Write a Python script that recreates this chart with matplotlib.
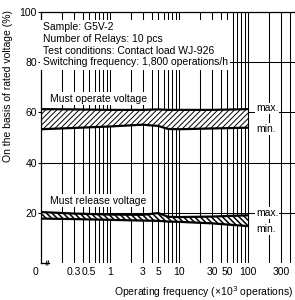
import numpy as np
import matplotlib
matplotlib.use('Agg')
import matplotlib.pyplot as plt
from matplotlib.ticker import FixedLocator, FixedFormatter, NullLocator

plt.rcParams['font.family'] = ['Liberation Sans', 'DejaVu Sans']
plt.rcParams['font.size'] = 7.5

# operating frequency (x10^3 operations)
freq = [0.1, 0.3, 1, 3, 5, 7, 10, 30, 100]
# must operate voltage band (%)
op_max = [61.3, 61.2, 61.0, 61.0, 61.2, 61.0, 61.0, 61.0, 61.3]
op_min = [53.3, 53.8, 54.4, 55.1, 54.6, 53.4, 53.3, 53.6, 53.9]
# must release voltage band (%)
rel_max = [20.3, 19.7, 19.3, 19.2, 19.9, 18.4, 18.3, 18.5, 19.0]
rel_min = [17.7, 17.5, 17.2, 16.9, 16.8, 16.5, 16.4, 15.8, 14.7]

tick_vals = [0.3, 0.5, 1, 3, 5, 10, 30, 50, 100, 300]
tick_text = ['0.3', '0.5', '1', '3', '5', '10', '30', '50', '100', '300']
y_ticks = [20, 40, 60, 80, 100]

info = ('Sample: G5V-2\nNumber of Relays: 10 pcs\n'
        'Test conditions: Contact load WJ-926\n'
        'Switching frequency: 1,800 operations/h')

W, H = 295, 300
fig = plt.figure(figsize=(W / 100, H / 100), dpi=100)
fig.patch.set_facecolor('white')
ax = fig.add_axes([41 / W, 37 / H, 254 / W, 251 / H])

ax.set_xscale('log')
ax.set_xlim(0.1, 480)
ax.set_ylim(0, 100)

# log grid lines 0.2 .. 400
grid_x = [m * 10.0 ** e for e in range(-1, 3) for m in range(1, 10)]
grid_x = [g for g in grid_x if 0.1 < g < 480]
for g in grid_x:
    ax.axvline(g, color='black', lw=0.75, zorder=1)
for yv in [20, 40, 60, 80]:
    ax.axhline(yv, color='black', lw=0.75, zorder=1)

ax.xaxis.set_major_locator(FixedLocator(tick_vals))
ax.xaxis.set_major_formatter(FixedFormatter(tick_text))
ax.xaxis.set_minor_locator(NullLocator())
ax.tick_params(axis='x', length=0, pad=3, labelsize=7.5)
ax.set_yticks(y_ticks)
ax.tick_params(axis='y', length=2, width=0.75, pad=1, labelsize=7.5)

for s in ['right', 'bottom']:
    ax.spines[s].set_visible(False)
for s in ['left', 'top']:
    ax.spines[s].set_linewidth(0.9)

# zero label and axis break
ax.annotate('0', xy=(0.1, 0), xytext=(-4, -3), textcoords='offset points',
            ha='center', va='top', fontsize=7.5)
ax.plot([0.1, 0.13], [0, 0], color='black', lw=0.9, clip_on=False, zorder=3)
for bx in [0.12, 0.127]:
    ax.plot([bx * 0.985, bx * 1.015], [-0.8, 0.8], color='black', lw=0.7,
            clip_on=False, zorder=3)

# bands
plt.rcParams['hatch.linewidth'] = 0.7
ax.fill_between(freq, op_min, op_max, facecolor='white', edgecolor='black',
                hatch='//////', lw=0, zorder=2)
plt.rcParams['hatch.linewidth'] = 1.1
ax.fill_between(freq, rel_min, rel_max, facecolor='white', edgecolor='black',
                hatch='\\\\\\\\\\\\', lw=0, zorder=2)
for ys in [op_max, op_min, rel_max, rel_min]:
    ax.plot(freq, ys, color='black', lw=1.6, zorder=3, solid_capstyle='butt')
ax.plot([freq[-1], freq[-1]], [op_min[-1], op_max[-1]], color='black', lw=0.8, zorder=3)
ax.plot([freq[-1], freq[-1]], [rel_min[-1], rel_max[-1]], color='black', lw=0.8, zorder=3)

wbox = dict(fc='white', ec='none', pad=1.2)
ax.text(0.106, 96.0, info, ha='left', va='top', fontsize=7.5, linespacing=1.22,
        zorder=5, bbox=dict(fc='white', ec='none', pad=1.8))
ax.text(0.134, 65.5, 'Must operate voltage', ha='left', va='center',
        fontsize=7.5, zorder=5, bbox=wbox)
ax.text(0.134, 24.8, 'Must release voltage', ha='left', va='center',
        fontsize=7.5, zorder=5, bbox=wbox)
for yv, s in [(61.6, 'max.'), (53.4, 'min.'), (19.8, 'max.'), (13.6, 'min.')]:
    ax.text(131, yv, s, ha='left', va='center', fontsize=7.5, zorder=5,
            bbox=dict(fc='white', ec='none', pad=0.6))

fig.text(8 / W, 1 - 10 / H, 'On the basis of rated voltage (%)', rotation=90,
         ha='center', va='top', fontsize=7.5)
fig.text(293 / W, 8 / H, 'Operating frequency (\u00d710$^3$ operations)',
         ha='right', va='center', fontsize=7.5)

fig.savefig('out.png', dpi=100)
